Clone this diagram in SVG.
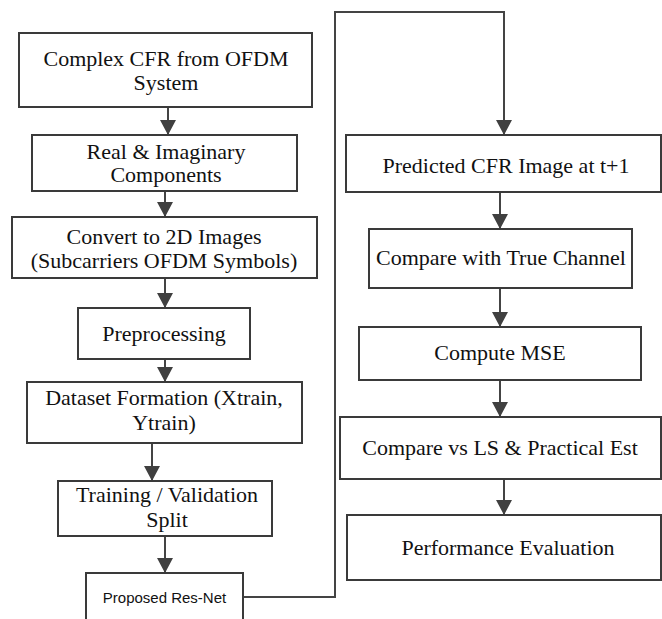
<svg xmlns="http://www.w3.org/2000/svg" width="662" height="619" viewBox="0 0 662 619">
<defs>
<marker id="ah" markerUnits="userSpaceOnUse" markerWidth="16" markerHeight="16" refX="15" refY="8" orient="auto">
<path d="M0,0 L15,8 L0,16 z" fill="#404040"/>
</marker>
<style>
.box{fill:#fff;stroke:#3a3a3a;stroke-width:2}
.t{font-family:'Liberation Serif','Times New Roman','DejaVu Serif',serif;font-size:22px;fill:#111;text-anchor:middle}
.s{font-family:'Liberation Sans',Arial,sans-serif;font-size:15px;fill:#111;text-anchor:middle}
.c{fill:none;stroke:#444;stroke-width:2}
</style>
</defs>
<rect width="662" height="619" fill="#fff"/>
<g id="connectors">
<line class="c" x1="168" y1="107" x2="168" y2="135" marker-end="url(#ah)"/>
<line class="c" x1="165" y1="191" x2="165" y2="217" marker-end="url(#ah)"/>
<line class="c" x1="165" y1="278" x2="165" y2="308" marker-end="url(#ah)"/>
<line class="c" x1="165" y1="359" x2="165" y2="382" marker-end="url(#ah)"/>
<line class="c" x1="152" y1="443" x2="152" y2="481" marker-end="url(#ah)"/>
<line class="c" x1="165" y1="536" x2="165" y2="573" marker-end="url(#ah)"/>
<polyline class="c" points="243,597 335,597 335,12 504,12 504,135" marker-end="url(#ah)"/>
<line class="c" x1="500" y1="192" x2="500" y2="229" marker-end="url(#ah)"/>
<line class="c" x1="500" y1="288" x2="500" y2="327" marker-end="url(#ah)"/>
<line class="c" x1="500" y1="380" x2="500" y2="417" marker-end="url(#ah)"/>
<line class="c" x1="504" y1="479" x2="504" y2="515" marker-end="url(#ah)"/>
</g>
<g id="n1"><rect class="box" x="19" y="33" width="293" height="74"/>
<text class="t" x="166" y="66" font-family="Liberation Serif, serif">Complex CFR from OFDM</text><text class="t" x="166" y="90">System</text></g>
<g id="n2"><rect class="box" x="32" y="135" width="265" height="56"/>
<text class="t" x="166" y="159">Real &amp; Imaginary</text><text class="t" x="166" y="182">Components</text></g>
<g id="n3"><rect class="box" x="12" y="217" width="305" height="61"/>
<text class="t" x="164" y="244">Convert to 2D Images</text><text class="t" x="164" y="268">(Subcarriers OFDM Symbols)</text></g>
<g id="n4"><rect class="box" x="78" y="308" width="172" height="51"/>
<text class="t" x="164" y="341">Preprocessing</text></g>
<g id="n5"><rect class="box" x="27" y="382" width="275" height="61"/>
<text class="t" x="164" y="405">Dataset Formation (Xtrain,</text><text class="t" x="164" y="430">Ytrain)</text></g>
<g id="n6"><rect class="box" x="58" y="481" width="214" height="55"/>
<text class="t" x="167" y="502">Training / Validation</text><text class="t" x="167" y="527">Split</text></g>
<g id="n7"><rect class="box" x="86" y="573" width="157" height="60"/>
<text class="s" x="164.5" y="603">Proposed Res-Net</text></g>
<g id="n8"><rect class="box" x="346" y="135" width="315" height="57"/>
<text class="t" x="506" y="173">Predicted CFR Image at t+1</text></g>
<g id="n9"><rect class="box" x="369" y="229" width="263" height="59"/>
<text class="t" x="501" y="265">Compare with True Channel</text></g>
<g id="n10"><rect class="box" x="359" y="327" width="282" height="53"/>
<text class="t" x="500" y="360">Compute MSE</text></g>
<g id="n11"><rect class="box" x="340" y="417" width="321" height="62"/>
<text class="t" x="500" y="455">Compare vs LS &amp; Practical Est</text></g>
<g id="n12"><rect class="box" x="347" y="515" width="314" height="65"/>
<text class="t" x="508" y="555">Performance Evaluation</text></g>
</svg>
